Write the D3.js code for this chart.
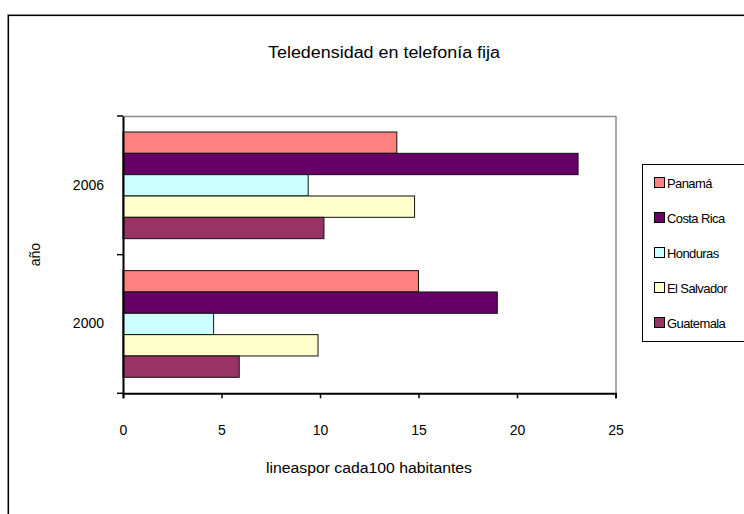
<!DOCTYPE html>
<html>
<head>
<meta charset="utf-8">
<script src="https://cdn.jsdelivr.net/npm/d3@7"></script>
<style>
  html, body { margin: 0; padding: 0; background: #fff; }
  svg { display: block; font-family: "Liberation Sans", Arial, sans-serif; }
</style>
</head>
<body>
<svg id="chart" width="744" height="514"></svg>
<script>
// Fixed-line teledensity (lines per 100 inhabitants) by country and year
const years = ["2006", "2000"];
const countries = ["Panamá", "Costa Rica", "Honduras", "El Salvador", "Guatemala"];
const values2006 = [13.9, 23.1, 9.4, 14.8, 10.2];
const values2000 = [15.0, 19.0, 4.6, 9.9, 5.9];
const colors = ["#FF8080", "#660066", "#CCFFFF", "#FFFFCC", "#993366"];
const xTicks = [0, 5, 10, 15, 20, 25];

const valuesByYear = { "2006": values2006, "2000": values2000 };
const rows = [];
years.forEach(y => countries.forEach((c, i) => rows.push({ year: y, country: c, value: valuesByYear[y][i] })));

const svg = d3.select("#chart");

// Outer chart frame (runs off the right and bottom edges)
svg.append("rect")
  .attr("x", 7.5).attr("y", 14.5).attr("width", 760).attr("height", 520)
  .attr("fill", "none").attr("stroke", "#999").attr("stroke-width", 1);
svg.append("rect")
  .attr("x", 8.5).attr("y", 15.5).attr("width", 760).attr("height", 520)
  .attr("fill", "none").attr("stroke", "#000").attr("stroke-width", 1.2);

const plot = { left: 123, right: 615.5, top: 116, bottom: 393.3 };

const x = d3.scaleLinear().domain([0, 25]).range([plot.left, plot.right]);
const y = d3.scaleBand().domain(years).range([plot.top, plot.bottom])
  .paddingInner(0.2308).paddingOuter(0.1154);
const ySub = d3.scaleBand().domain(countries).range([0, y.bandwidth()]);
const color = d3.scaleOrdinal().domain(countries).range(colors);

// Plot area border (top and right in grey)
svg.append("path")
  .attr("d", `M${plot.left},${plot.top + 0.5}H${plot.right + 0.5}V${plot.bottom}`)
  .attr("fill", "none").attr("stroke", "#8c8c8c").attr("stroke-width", 1.5);

// Bars
svg.append("g").selectAll("rect")
  .data(rows)
  .join("rect")
  .attr("x", x(0))
  .attr("y", d => y(d.year) + ySub(d.country))
  .attr("width", d => x(d.value) - x(0))
  .attr("height", ySub.bandwidth())
  .attr("fill", d => color(d.country))
  .attr("stroke", "#111")
  .attr("stroke-width", 1);

// X axis
const xAxis = svg.append("g")
  .attr("transform", `translate(0,${plot.bottom})`)
  .call(d3.axisBottom(x).tickValues(xTicks).tickSize(5).tickPadding(27).tickFormat(d3.format("d")));
xAxis.select(".domain").attr("stroke", "#000").attr("stroke-width", 2);
xAxis.selectAll(".tick line").attr("stroke", "#000").attr("stroke-width", 1.5);
xAxis.selectAll(".tick text")
  .attr("font-size", 14).attr("fill", "#000")
  .attr("font-family", "'Liberation Sans', Arial, sans-serif");

// Y axis: labels at category centres, ticks at category boundaries
const yAxis = svg.append("g")
  .attr("transform", `translate(${plot.left},0)`)
  .call(d3.axisLeft(y).tickSize(0).tickPadding(19));
yAxis.select(".domain").attr("stroke", "#000").attr("stroke-width", 2);
yAxis.selectAll(".tick text")
  .attr("font-size", 14).attr("fill", "#000")
  .attr("font-family", "'Liberation Sans', Arial, sans-serif");

const boundaries = [plot.top, ...years.map(d => y(d) + y.bandwidth() + y.step() * y.paddingOuter())];
svg.append("g").selectAll("line")
  .data(boundaries)
  .join("line")
  .attr("x1", plot.left - 6).attr("x2", plot.left)
  .attr("y1", d => d).attr("y2", d => d)
  .attr("stroke", "#000").attr("stroke-width", 1.5);

// Titles
svg.append("text")
  .attr("x", 384).attr("y", 58)
  .attr("text-anchor", "middle")
  .attr("font-size", 16)
  .attr("textLength", 232).attr("lengthAdjust", "spacingAndGlyphs")
  .text("Teledensidad en telefonía fija");

svg.append("text")
  .attr("x", 369).attr("y", 473)
  .attr("text-anchor", "middle")
  .attr("font-size", 14)
  .attr("textLength", 206).attr("lengthAdjust", "spacingAndGlyphs")
  .text("lineaspor cada100 habitantes");

svg.append("text")
  .attr("transform", `translate(40,${(plot.top + plot.bottom) / 2}) rotate(-90)`)
  .attr("text-anchor", "middle")
  .attr("font-size", 14)
  .text("año");

// Legend
const legend = svg.append("g");
legend.append("rect")
  .attr("x", 642.5).attr("y", 164.5).attr("width", 120).attr("height", 177)
  .attr("fill", "#fff").attr("stroke", "#000").attr("stroke-width", 1);

const item = legend.selectAll("g.item")
  .data(countries)
  .join("g")
  .attr("class", "item")
  .attr("transform", (d, i) => `translate(0,${183 + i * 35})`);
item.append("rect")
  .attr("x", 654.5).attr("y", -5.5).attr("width", 10).attr("height", 10)
  .attr("fill", d => color(d)).attr("stroke", "#000").attr("stroke-width", 1);
item.append("text")
  .attr("x", 667).attr("y", 0).attr("dy", "0.35em")
  .attr("font-size", 13)
  .attr("letter-spacing", -0.6)
  .text(d => d);
</script>
</body>
</html>
